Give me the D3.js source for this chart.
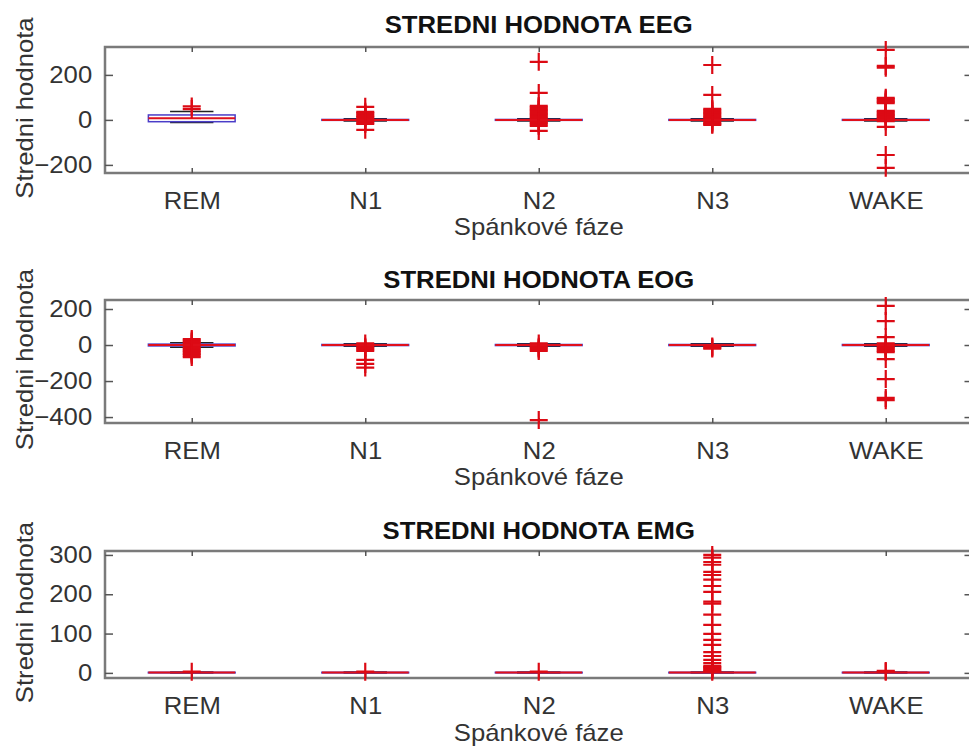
<!DOCTYPE html>
<html>
<head>
<meta charset="utf-8">
<script src="https://cdn.jsdelivr.net/npm/d3@7"></script>
<style>
  body { margin: 0; background: #fff; }
  svg { display: block; font-family: "Liberation Sans", Arial, sans-serif; }
</style>
</head>
<body>
<div id="chart"></div>
<script>
// kategorie (spankove faze)
const categories = ["REM", "N1", "N2", "N3", "WAKE"];

// EEG
const eegTicks = [-200, 0, 200];
const eegDomain = [-236, 324];
const eegQ1 = [-8, -2, -2, -2, -2];
const eegMedian = [7, 0, 0, 0, 0];
const eegQ3 = [22, 2, 2, 2, 2];
const eegLow = [-12, -5, -5, -5, -5];
const eegHigh = [37, 5, 5, 5, 5];
const eegOutliers = [
  [48, 60],
  [58, 36, 30, 24, 18, 12, 6, -6, -12, -18, -44],
  [258, 120, 62, 56, 50, 44, 38, 32, 26, 20, 14, 8, -8, -14, -20, -27, -49],
  [244, 111, 49, 43, 37, 31, 25, 19, 13, 7, -7, -13, -19, -22],
  [311, 240, 232, 98, 92, 86, 80, 74, 40, 34, 28, 22, 16, 10, 6, -6, -31, -156, -213]
];

// EOG
const eogTicks = [-400, -200, 0, 200];
const eogDomain = [-433, 250];
const eogQ1 = [-5, -3, -3, -3, -3];
const eogMedian = [0, 0, 0, 0, 0];
const eogQ3 = [5, 3, 3, 3, 3];
const eogLow = [-12, -7, -7, -7, -7];
const eogHigh = [12, 7, 7, 7, 7];
const eogOutliers = [
  [33, 25, 17, 9, -9, -17, -25, -33, -41, -49, -57, -67],
  [9, -9, -17, -25, -33, -83, -105, -125],
  [9, -9, -17, -25, -33, -417],
  [-8, -14, -20],
  [217, 133, 44, 9, -9, -17, -25, -33, -39, -78, -189, -294, -306]
];

// EMG
const emgTicks = [0, 100, 200, 300];
const emgDomain = [-13, 310];
const emgQ1 = [0, 0, 0, 0, 0];
const emgMedian = [1, 1, 1, 1, 1];
const emgQ3 = [1.5, 1.5, 1.5, 1.5, 1.5];
const emgLow = [0, 0, 0, 0, 0];
const emgHigh = [2, 2, 2, 2, 2];
const emgOutliers = [
  [3],
  [3],
  [3],
  [300, 293, 282, 275, 257, 249, 237, 221, 206, 181, 176, 148, 122, 99, 84, 71, 53, 43, 33, 25, 18, 15, 12, 9, 6, 3],
  [3, 5]
];

const width = 969;
const height = 753;
const left = 105, right = 972.5;
const textScale = "scale(1.07,1)";

const svg = d3.select("#chart").append("svg")
  .attr("width", width)
  .attr("height", height);

const xScale = d3.scaleLinear().domain([0.5, 5.5]).range([left, right]);

function drawPanel(p) {
  const y = d3.scaleLinear().domain(p.domain).range([p.bottom, p.top]);
  const g = svg.append("g");

  // ramecek
  g.append("rect")
    .attr("x", left).attr("y", p.top)
    .attr("width", right - left).attr("height", p.bottom - p.top)
    .attr("fill", "none").attr("stroke", "#7a7a7a").attr("stroke-width", 2.5);

  // osy
  g.append("g").attr("transform", "translate(" + left + ",0)")
    .call(d3.axisLeft(y).tickValues(p.ticks).tickSize(-8).tickPadding(12));
  g.append("g").attr("transform", "translate(" + right + ",0)")
    .call(d3.axisRight(y).tickValues(p.ticks).tickSize(-8).tickFormat(""));
  g.append("g").attr("transform", "translate(0," + p.bottom + ")")
    .call(d3.axisBottom(xScale).tickValues([1, 2, 3, 4, 5]).tickSize(-5).tickPadding(19)
      .tickFormat(function (d) { return categories[d - 1]; }));
  g.append("g").attr("transform", "translate(0," + p.top + ")")
    .call(d3.axisTop(xScale).tickValues([1, 2, 3, 4, 5]).tickSize(-5).tickFormat(""));

  g.selectAll(".domain").remove();
  g.selectAll(".tick line").attr("stroke", "#555").attr("stroke-width", 1.5);
  g.selectAll(".tick text")
    .attr("fill", "#333")
    .attr("font-size", 24)
    .attr("transform", textScale);

  const idx = d3.range(categories.length);
  const bw = xScale(1.25) - xScale(0.75);
  const cw = bw / 2;

  // whiskers
  g.append("g").selectAll("line")
    .data(idx.flatMap(function (i) {
      return [[i, p.q3[i], p.high[i]], [i, p.q1[i], p.low[i]]];
    }))
    .enter().append("line")
    .attr("x1", function (d) { return xScale(d[0] + 1); })
    .attr("x2", function (d) { return xScale(d[0] + 1); })
    .attr("y1", function (d) { return y(d[1]); })
    .attr("y2", function (d) { return y(d[2]); })
    .attr("stroke", "#000").attr("stroke-width", 1).attr("stroke-dasharray", "4,3");

  // caps
  g.append("g").selectAll("line")
    .data(idx.flatMap(function (i) { return [[i, p.high[i]], [i, p.low[i]]]; }))
    .enter().append("line")
    .attr("x1", function (d) { return xScale(d[0] + 1) - cw / 2; })
    .attr("x2", function (d) { return xScale(d[0] + 1) + cw / 2; })
    .attr("y1", function (d) { return y(d[1]); })
    .attr("y2", function (d) { return y(d[1]); })
    .attr("stroke", "#222").attr("stroke-width", 1.5);

  // boxes
  g.append("g").selectAll("rect")
    .data(idx).enter().append("rect")
    .attr("x", function (i) { return xScale(i + 1) - bw / 2; })
    .attr("y", function (i) { return y(p.q3[i]); })
    .attr("width", bw)
    .attr("height", function (i) { return Math.max(0.5, y(p.q1[i]) - y(p.q3[i])); })
    .attr("fill", "none").attr("stroke", "#4a3cc8").attr("stroke-width", 1.5);

  // medians
  g.append("g").selectAll("line")
    .data(idx).enter().append("line")
    .attr("x1", function (i) { return xScale(i + 1) - bw / 2; })
    .attr("x2", function (i) { return xScale(i + 1) + bw / 2; })
    .attr("y1", function (i) { return y(p.median[i]); })
    .attr("y2", function (i) { return y(p.median[i]); })
    .attr("stroke", "#e0101c").attr("stroke-width", 2);

  // outliers "+"
  g.append("g").selectAll("path")
    .data(idx.flatMap(function (i) { return p.outliers[i].map(function (v) { return [i, v]; }); }))
    .enter().append("path")
    .attr("d", "M-9,0H9M0,-9V9")
    .attr("transform", function (d) { return "translate(" + xScale(d[0] + 1) + "," + y(d[1]) + ")"; })
    .attr("stroke", "#dc0a14").attr("stroke-width", 2.2).attr("fill", "none");

  // popisky
  svg.append("text")
    .attr("transform", "translate(" + (left + right) / 2 + "," + p.titleY + ") " + textScale)
    .attr("text-anchor", "middle").attr("font-size", 24).attr("font-weight", "bold")
    .attr("fill", "#111").text(p.title);
  svg.append("text")
    .attr("transform", "translate(" + (left + right) / 2 + "," + p.xLabelY + ") " + textScale)
    .attr("text-anchor", "middle").attr("font-size", 24)
    .attr("fill", "#333").text("Spánkové fáze");
  svg.append("text")
    .attr("transform", "translate(33," + ((p.top + p.bottom) / 2 - 2) + ") rotate(-90) " + textScale)
    .attr("text-anchor", "middle").attr("font-size", 24)
    .attr("fill", "#333").text("Stredni hodnota");
}

drawPanel({
  title: "STREDNI HODNOTA EEG", top: 47, bottom: 173, titleY: 33, xLabelY: 235,
  domain: eegDomain, ticks: eegTicks,
  q1: eegQ1, median: eegMedian, q3: eegQ3, low: eegLow, high: eegHigh, outliers: eegOutliers
});
drawPanel({
  title: "STREDNI HODNOTA EOG", top: 300, bottom: 423, titleY: 288, xLabelY: 485,
  domain: eogDomain, ticks: eogTicks,
  q1: eogQ1, median: eogMedian, q3: eogQ3, low: eogLow, high: eogHigh, outliers: eogOutliers
});
drawPanel({
  title: "STREDNI HODNOTA EMG", top: 551, bottom: 678, titleY: 539, xLabelY: 741,
  domain: emgDomain, ticks: emgTicks,
  q1: emgQ1, median: emgMedian, q3: emgQ3, low: emgLow, high: emgHigh, outliers: emgOutliers
});
</script>
</body>
</html>
